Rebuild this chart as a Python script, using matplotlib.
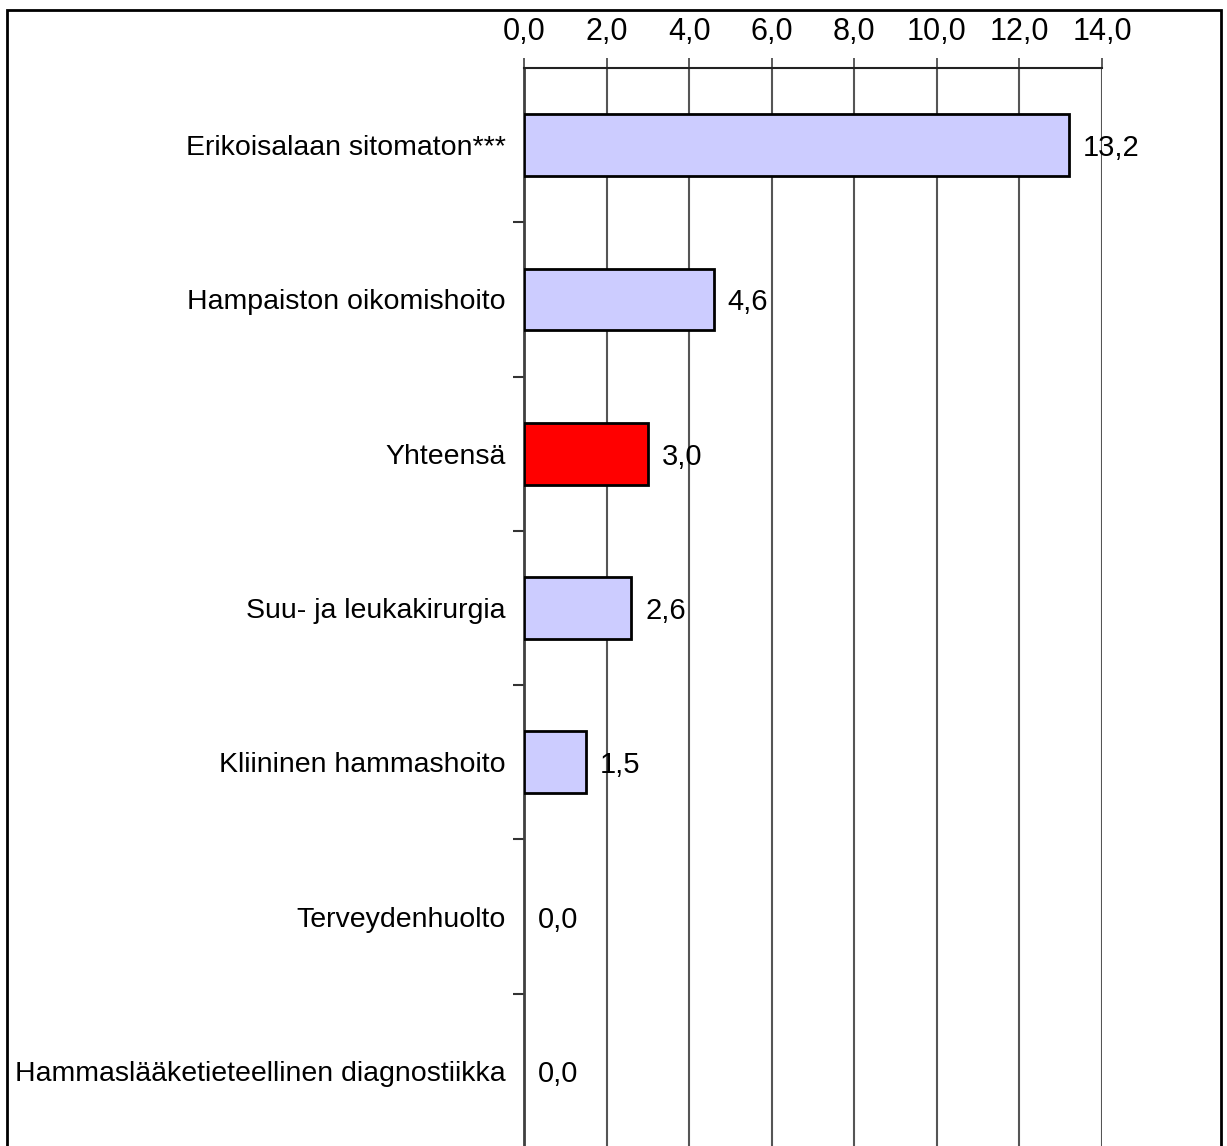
import matplotlib
matplotlib.use("Agg")
import matplotlib.pyplot as plt
import matplotlib.patches as mpatches

plt.rcParams['font.family'] = ['Liberation Sans', 'DejaVu Sans']

# data
categories = [
    "Erikoisalaan sitomaton***",
    "Hampaiston oikomishoito",
    "Yhteensä",
    "Suu- ja leukakirurgia",
    "Kliininen hammashoito",
    "Terveydenhuolto",
    "Hammaslääketieteellinen diagnostiikka",
]
values = [13.2, 4.6, 3.0, 2.6, 1.5, 0.0, 0.0]
bar_colors = ["#CCCCFF", "#CCCCFF", "#FF0000", "#CCCCFF", "#CCCCFF", "#CCCCFF", "#CCCCFF"]
x_ticks = [0, 2, 4, 6, 8, 10, 12, 14]

W, H = 1227, 1146
fig = plt.figure(figsize=(W / 100, H / 100), dpi=100)
ax = fig.add_axes([524 / W, -2 / H, (1102 - 524) / W, (1148 - 68) / H])

ypos = list(range(len(categories)))
ax.barh(ypos, values, height=0.4, color=bar_colors, edgecolor="black",
        linewidth=[2 if v > 0 else 0 for v in values], zorder=3)

for y, v in zip(ypos, values):
    ax.annotate(f"{v:.1f}".replace(".", ","), xy=(v, y), xytext=(10, 0),
                textcoords="offset points", ha="left", va="center_baseline",
                fontsize=21, zorder=2)

ax.set_xlim(0, 14)
ax.set_ylim(len(categories) - 0.5, -0.5)

# x akseli ylhäällä
ax.xaxis.tick_top()
ax.set_xticks(x_ticks)
ax.set_xticklabels([f"{t:.1f}".replace(".", ",") for t in x_ticks], fontsize=22)
ax.tick_params(axis="x", direction="out", length=7, width=1.2, color="#404040", pad=8)
ax.grid(axis="x", color="#555555", linewidth=1.5, zorder=1)

# kategoriat
ax.set_yticks(ypos)
ax.set_yticklabels(categories, fontsize=20.5)
ax.tick_params(axis="y", length=0, pad=13)
ax.set_yticks([i + 0.5 for i in ypos[:-1]], minor=True)
ax.tick_params(axis="y", which="minor", direction="out", length=8, width=1.5, color="#333333")

for s in ["right", "bottom"]:
    ax.spines[s].set_visible(False)
ax.spines["left"].set_color("#404040")
ax.spines["left"].set_linewidth(2)
ax.spines["top"].set_color("#222222")
ax.spines["top"].set_linewidth(1.5)

# kehys kuvan ympärillä
frame = mpatches.Rectangle((7 / W, -0.05), (1221 - 7) / W, 1 - 10 / H + 0.05,
                           transform=fig.transFigure, fill=False, edgecolor="black", linewidth=2)
fig.patches.append(frame)

fig.savefig("out.png", dpi=100)
